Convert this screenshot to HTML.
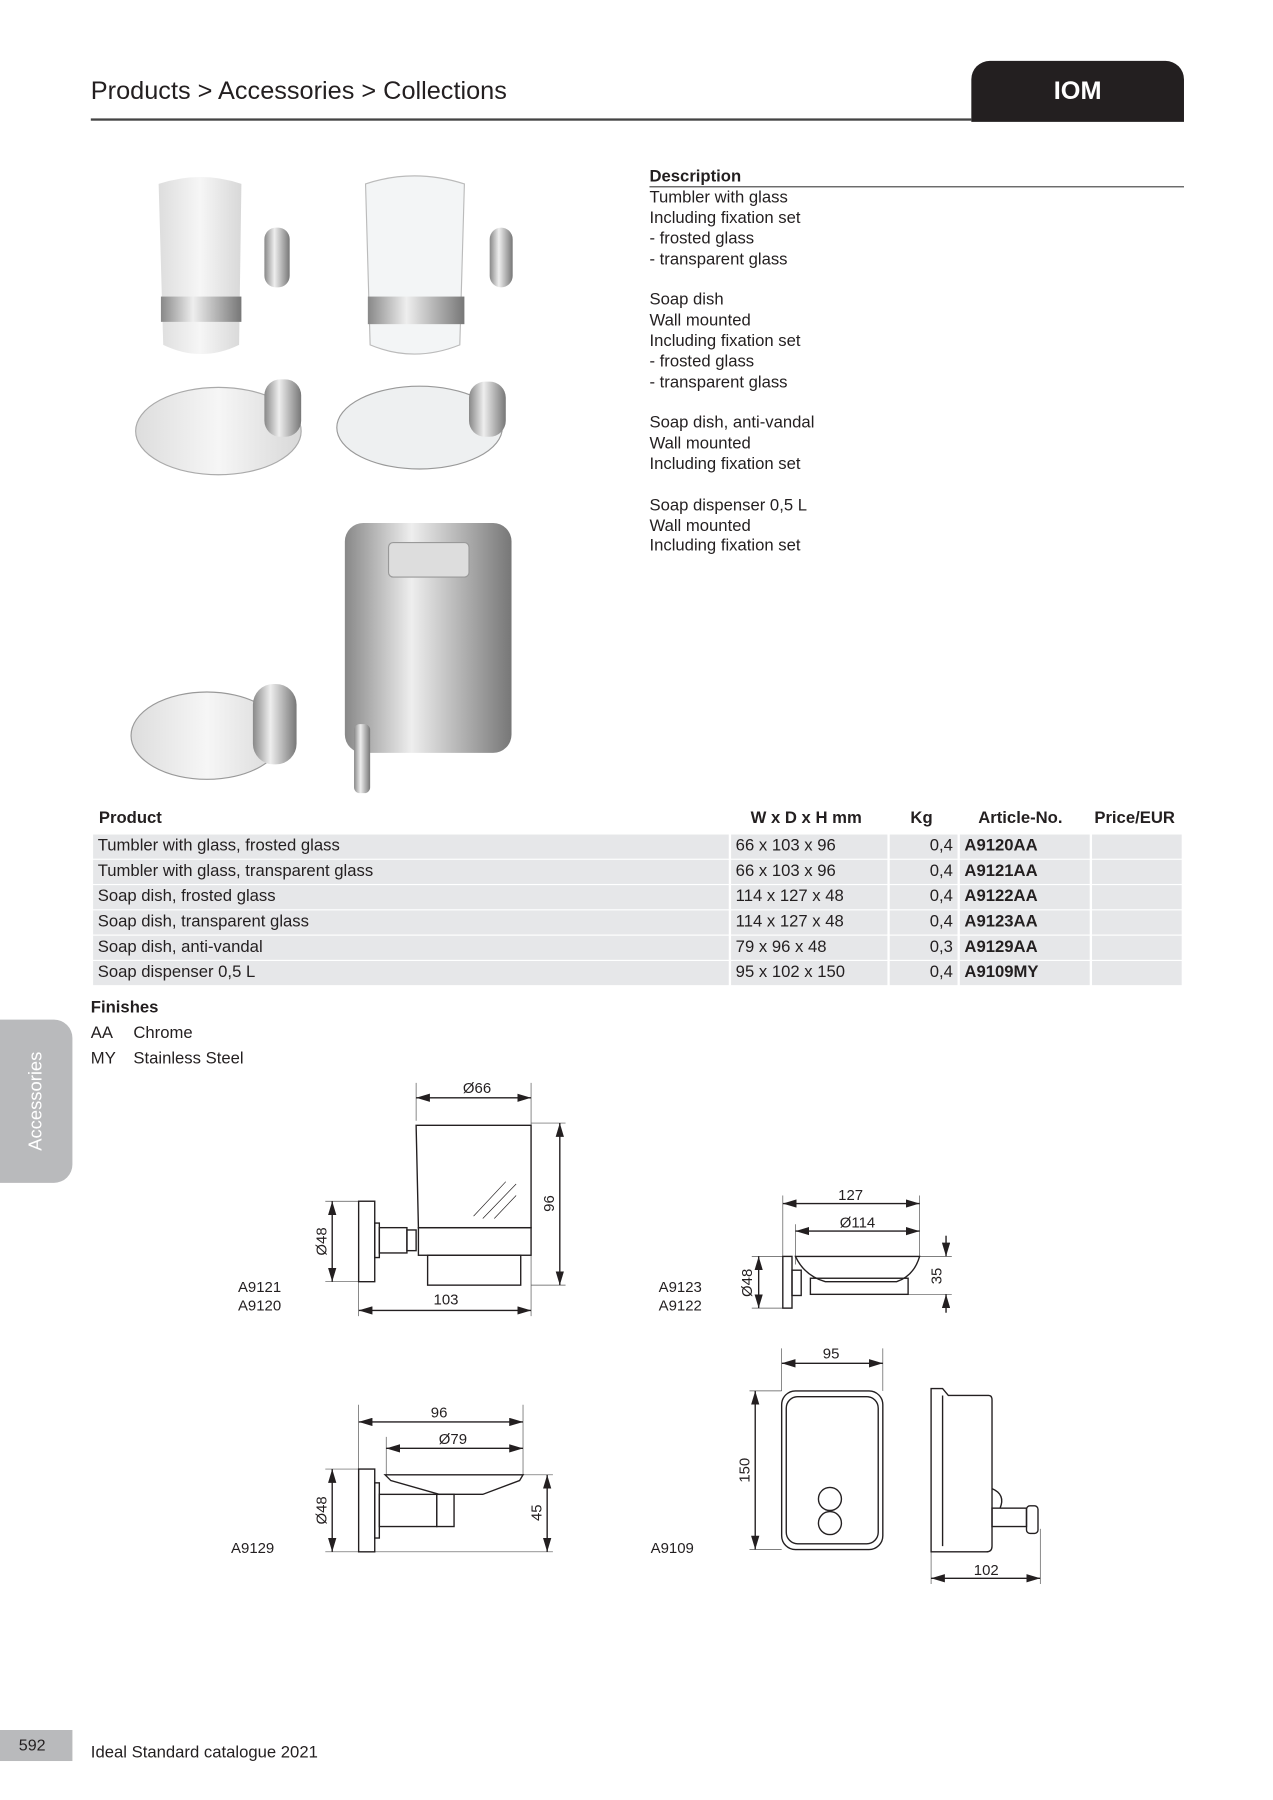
<!DOCTYPE html>
<html><head><meta charset="utf-8"><style>
html,body{margin:0;padding:0;background:#fff;width:1273px;height:1800px;overflow:hidden}
#w{position:absolute;left:0;top:0;width:1108px;height:1566px;transform:scale(1.1495);transform-origin:0 0;font-family:"Liberation Sans",sans-serif;color:#231f20}
.a{position:absolute;white-space:nowrap}
.d{font-size:14.5px;line-height:17.85px}
.row{position:absolute;left:81px;height:21px;width:947px}
.row div{position:absolute;top:0;height:21px;background:#e6e7e9;font-size:14.5px;line-height:21px;padding-left:4px;box-sizing:border-box}
.th{position:absolute;top:704px;font-size:14.5px;font-weight:bold}
</style></head><body><div id="w">
<div class="a" style="left:79px;top:66px;font-size:22px">Products &gt; Accessories &gt; Collections</div>
<div class="a" style="left:79px;top:103px;width:766px;height:2px;background:#444"></div>
<div class="a" style="left:845px;top:53px;width:185px;height:53px;background:#231f20;border-radius:16px 16px 0 0"></div>
<div class="a" style="left:845px;top:66px;width:185px;text-align:center;color:#fff;font-size:22px;font-weight:bold">IOM</div>

<div class="a d" style="left:565px;top:146px;font-weight:bold">Description</div>
<div class="a" style="left:565px;top:162px;width:465px;height:1px;background:#444"></div>
<div class="a d" style="left:565px;top:164px">Tumbler with glass<br>Including fixation set<br>- frosted glass<br>- transparent glass<br><br>Soap dish<br>Wall mounted<br>Including fixation set<br>- frosted glass<br>- transparent glass<br><br>Soap dish, anti-vandal<br>Wall mounted<br>Including fixation set<br><br>Soap dispenser 0,5 L<br>Wall mounted<br>Including fixation set</div>

<svg class="a" style="left:100px;top:140px" width="360" height="560">
<defs><linearGradient id="g" x1="0" x2="1"><stop offset="0" stop-color="#888"/><stop offset=".4" stop-color="#eee"/><stop offset="1" stop-color="#777"/></linearGradient>
<linearGradient id="f" x1="0" x2="1"><stop offset="0" stop-color="#ddd"/><stop offset=".5" stop-color="#f6f6f6"/><stop offset="1" stop-color="#d8d8d8"/></linearGradient></defs>
<rect x="130" y="58" width="22" height="52" rx="10" fill="url(#g)"/>
<path d="M38 20 Q75 8 110 20 L108 160 Q75 176 42 160Z" fill="url(#f)"/>
<rect x="40" y="118" width="70" height="22" fill="url(#g)"/>
<rect x="326" y="58" width="20" height="52" rx="10" fill="url(#g)"/>
<path d="M218 20 Q260 6 304 20 L300 160 Q260 176 222 160Z" fill="#f3f5f6" stroke="#bbb"/>
<rect x="220" y="118" width="84" height="24" fill="url(#g)"/>
<ellipse cx="90" cy="235" rx="72" ry="38" fill="url(#f)" stroke="#aaa"/>
<rect x="130" y="190" width="32" height="50" rx="14" fill="url(#g)"/>
<ellipse cx="265" cy="232" rx="72" ry="36" fill="#eef0f1" stroke="#999"/>
<rect x="308" y="192" width="32" height="48" rx="14" fill="url(#g)"/>
<ellipse cx="80" cy="500" rx="66" ry="38" fill="url(#f)" stroke="#999"/>
<rect x="120" y="455" width="38" height="70" rx="18" fill="url(#g)"/>
<rect x="200" y="315" width="145" height="200" rx="16" fill="url(#g)"/>
<rect x="238" y="332" width="70" height="30" rx="4" fill="#ddd" stroke="#999"/>
<rect x="208" y="490" width="14" height="60" rx="5" fill="url(#g)"/>
</svg>

<div class="th" style="left:86px">Product</div>
<div class="th" style="left:653px">W x D x H mm</div>
<div class="th" style="left:792px">Kg</div>
<div class="th" style="left:851px">Article-No.</div>
<div class="th" style="left:952px">Price/EUR</div>

<div class="row" style="top:726px"><div style="left:0;width:553px">Tumbler with glass, frosted glass</div><div style="left:555px;width:136px">66 x 103 x 96</div><div style="left:693px;width:59px;text-align:right;padding-right:4px">0,4</div><div style="left:754px;width:113px;font-weight:bold">A9120AA</div><div style="left:869px;width:78px"></div></div>
<div class="row" style="top:748px"><div style="left:0;width:553px">Tumbler with glass, transparent glass</div><div style="left:555px;width:136px">66 x 103 x 96</div><div style="left:693px;width:59px;text-align:right;padding-right:4px">0,4</div><div style="left:754px;width:113px;font-weight:bold">A9121AA</div><div style="left:869px;width:78px"></div></div>
<div class="row" style="top:770px"><div style="left:0;width:553px">Soap dish, frosted glass</div><div style="left:555px;width:136px">114 x 127 x 48</div><div style="left:693px;width:59px;text-align:right;padding-right:4px">0,4</div><div style="left:754px;width:113px;font-weight:bold">A9122AA</div><div style="left:869px;width:78px"></div></div>
<div class="row" style="top:792px"><div style="left:0;width:553px">Soap dish, transparent glass</div><div style="left:555px;width:136px">114 x 127 x 48</div><div style="left:693px;width:59px;text-align:right;padding-right:4px">0,4</div><div style="left:754px;width:113px;font-weight:bold">A9123AA</div><div style="left:869px;width:78px"></div></div>
<div class="row" style="top:814px"><div style="left:0;width:553px">Soap dish, anti-vandal</div><div style="left:555px;width:136px">79 x 96 x 48</div><div style="left:693px;width:59px;text-align:right;padding-right:4px">0,3</div><div style="left:754px;width:113px;font-weight:bold">A9129AA</div><div style="left:869px;width:78px"></div></div>
<div class="row" style="top:836px"><div style="left:0;width:553px">Soap dispenser 0,5 L</div><div style="left:555px;width:136px">95 x 102 x 150</div><div style="left:693px;width:59px;text-align:right;padding-right:4px">0,4</div><div style="left:754px;width:113px;font-weight:bold">A9109MY</div><div style="left:869px;width:78px"></div></div>

<div class="a" style="left:79px;top:869px;font-size:14.5px;font-weight:bold">Finishes</div>
<div class="a" style="left:79px;top:891px;font-size:14.5px">AA</div><div class="a" style="left:116px;top:891px;font-size:14.5px">Chrome</div>
<div class="a" style="left:79px;top:913px;font-size:14.5px">MY</div><div class="a" style="left:116px;top:913px;font-size:14.5px">Stainless Steel</div>

<div class="a" style="left:0;top:887px;width:63px;height:142px;background:#b9babc;border-radius:0 16px 16px 0"></div>
<div class="a" style="left:32px;top:958px;transform:translate(-50%,-50%) rotate(-90deg);color:#fff;font-size:16px">Accessories</div>

<svg class="a" style="left:0;top:0" width="1100" height="1556" font-family="Liberation Sans" font-size="13" fill="none" stroke="#231f20" stroke-width="1.2">
<defs><marker id="m" markerWidth="10" markerHeight="6" refX="10" refY="3" orient="auto-start-reverse"><path d="M0 0L10 3L0 6Z" fill="#231f20" stroke="none"/></marker></defs>
<g stroke-width="0.6" stroke="#555">
<line x1="362" y1="942" x2="362" y2="975"/><line x1="462" y1="942" x2="462" y2="1145"/><line x1="462" y1="977" x2="492" y2="977"/><line x1="462" y1="1118" x2="492" y2="1118"/><line x1="312" y1="1115" x2="312" y2="1145"/><line x1="283" y1="1045" x2="312" y2="1045"/><line x1="283" y1="1115" x2="312" y2="1115"/>
</g>
<line x1="362" y1="955" x2="462" y2="955" marker-start="url(#m)" marker-end="url(#m)"/>
<line x1="487" y1="977" x2="487" y2="1118" marker-start="url(#m)" marker-end="url(#m)"/>
<line x1="312" y1="1140" x2="462" y2="1140" marker-start="url(#m)" marker-end="url(#m)"/>
<line x1="289" y1="1045" x2="289" y2="1115" marker-start="url(#m)" marker-end="url(#m)"/>
<rect x="312" y="1045" width="14" height="70"/><rect x="326" y="1064" width="4" height="30"/><rect x="330" y="1068" width="24" height="22"/><rect x="354" y="1070" width="8" height="18"/>
<path d="M362 979L364 1068H462L462 979Z"/><rect x="364" y="1068" width="98" height="24"/><rect x="372" y="1092" width="81" height="26"/>
<g stroke-width="0.6"><line x1="412" y1="1058" x2="440" y2="1028"/><line x1="420" y1="1060" x2="449" y2="1030"/><line x1="430" y1="1060" x2="449" y2="1040"/></g>
<g fill="#231f20" stroke="none" font-size="13">
<text x="415" y="951" text-anchor="middle">Ø66</text><text x="388" y="1135" text-anchor="middle">103</text>
<text transform="translate(482 1047) rotate(-90)" text-anchor="middle">96</text><text transform="translate(284 1080) rotate(-90)" text-anchor="middle">Ø48</text>
<text x="207" y="1124">A9121</text><text x="207" y="1140">A9120</text>
<text x="740" y="1044" text-anchor="middle">127</text><text x="746" y="1068" text-anchor="middle">Ø114</text>
<text transform="translate(819 1110) rotate(-90)" text-anchor="middle">35</text><text transform="translate(654 1116) rotate(-90)" text-anchor="middle">Ø48</text>
<text x="573" y="1124">A9123</text><text x="573" y="1140">A9122</text>
<text x="382" y="1233" text-anchor="middle">96</text><text x="394" y="1256" text-anchor="middle">Ø79</text>
<text transform="translate(471 1316) rotate(-90)" text-anchor="middle">45</text><text transform="translate(284 1314) rotate(-90)" text-anchor="middle">Ø48</text>
<text x="201" y="1351">A9129</text>
<text x="723" y="1182" text-anchor="middle">95</text><text transform="translate(652 1279) rotate(-90)" text-anchor="middle">150</text>
<text x="858" y="1370" text-anchor="middle">102</text><text x="566" y="1351">A9109</text>
</g>
<g stroke-width="0.6" stroke="#555"><line x1="681" y1="1040" x2="681" y2="1093"/><line x1="800" y1="1040" x2="800" y2="1093"/><line x1="692" y1="1065" x2="692" y2="1100"/><line x1="800" y1="1093" x2="828" y2="1093"/><line x1="740" y1="1126" x2="828" y2="1126"/><line x1="654" y1="1093" x2="681" y2="1093"/><line x1="654" y1="1138" x2="681" y2="1138"/></g>
<line x1="681" y1="1047" x2="800" y2="1047" marker-start="url(#m)" marker-end="url(#m)"/>
<line x1="692" y1="1071" x2="800" y2="1071" marker-start="url(#m)" marker-end="url(#m)"/>
<line x1="823" y1="1075" x2="823" y2="1093" marker-end="url(#m)"/><line x1="823" y1="1142" x2="823" y2="1126" marker-end="url(#m)"/>
<line x1="660" y1="1093" x2="660" y2="1138" marker-start="url(#m)" marker-end="url(#m)"/>
<rect x="681" y="1093" width="8" height="45"/><rect x="689" y="1105" width="8" height="22"/><path d="M692 1093H800Q795 1110 780 1115H718Q700 1110 692 1093Z"/><rect x="705" y="1112" width="85" height="14"/>
<g stroke-width="0.6" stroke="#555"><line x1="312" y1="1222" x2="312" y2="1278"/><line x1="455" y1="1222" x2="455" y2="1283"/><line x1="336" y1="1250" x2="336" y2="1283"/><line x1="455" y1="1283" x2="481" y2="1283"/><line x1="283" y1="1350" x2="481" y2="1350"/><line x1="283" y1="1278" x2="312" y2="1278"/></g>
<line x1="312" y1="1237" x2="455" y2="1237" marker-start="url(#m)" marker-end="url(#m)"/>
<line x1="336" y1="1260" x2="455" y2="1260" marker-start="url(#m)" marker-end="url(#m)"/>
<line x1="476" y1="1283" x2="476" y2="1350" marker-start="url(#m)" marker-end="url(#m)"/>
<line x1="289" y1="1278" x2="289" y2="1350" marker-start="url(#m)" marker-end="url(#m)"/>
<rect x="312" y="1278" width="14" height="72"/><rect x="326" y="1290" width="4" height="48"/><rect x="330" y="1300" width="50" height="28"/><rect x="380" y="1300" width="15" height="28"/>
<path d="M335 1283H455L452 1288L420 1300H382L340 1288Z"/>
<g stroke-width="0.6" stroke="#555"><line x1="680" y1="1173" x2="680" y2="1210"/><line x1="768" y1="1173" x2="768" y2="1210"/><line x1="652" y1="1210" x2="680" y2="1210"/><line x1="652" y1="1348" x2="680" y2="1348"/><line x1="810" y1="1350" x2="810" y2="1378"/><line x1="905" y1="1330" x2="905" y2="1378"/></g>
<line x1="680" y1="1186" x2="768" y2="1186" marker-start="url(#m)" marker-end="url(#m)"/>
<line x1="657" y1="1210" x2="657" y2="1348" marker-start="url(#m)" marker-end="url(#m)"/>
<line x1="810" y1="1373" x2="905" y2="1373" marker-start="url(#m)" marker-end="url(#m)"/>
<rect x="680" y="1210" width="88" height="138" rx="12"/><rect x="684" y="1215" width="80" height="128" rx="10"/>
<circle cx="722" cy="1304" r="10"/><circle cx="722" cy="1325" r="10"/>
<path d="M810 1208H820L825 1214H860Q863 1214 863 1218V1345Q863 1350 858 1350H810Z"/><line x1="820" y1="1214" x2="820" y2="1345"/>
<path d="M863 1295Q875 1300 870 1312"/><rect x="863" y="1312" width="30" height="16"/><rect x="893" y="1310" width="10" height="24" rx="3"/>
</svg>

<div class="a" style="left:0;top:1505px;width:63px;height:27px;background:#b9babc"></div>
<div class="a" style="left:0;top:1510px;width:56px;text-align:center;font-size:14px">592</div>
<div class="a" style="left:79px;top:1517px;font-size:14.5px">Ideal Standard catalogue 2021</div>
</div></body></html>
